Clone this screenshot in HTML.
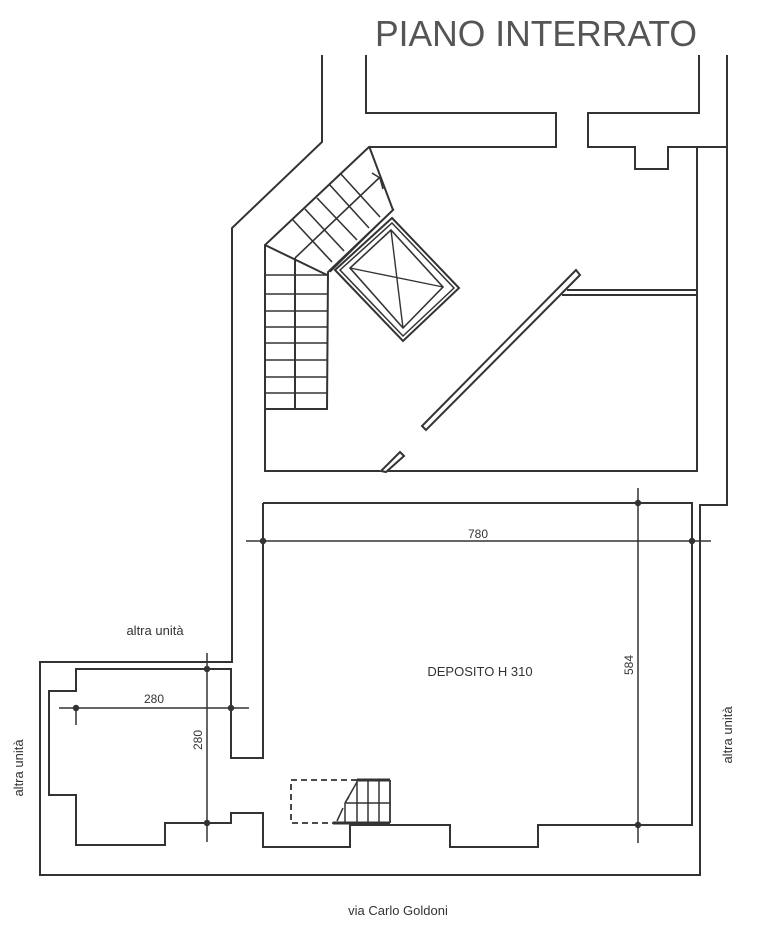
<!DOCTYPE html>
<html><head><meta charset="utf-8"><style>
html,body{margin:0;padding:0;background:#fff;}
svg{display:block;}
text{font-family:"Liberation Sans",sans-serif;fill:#333;}
</style></head><body>
<svg width="765" height="929" viewBox="0 0 765 929" xmlns="http://www.w3.org/2000/svg">
<text x="375" y="46" font-size="36" textLength="322" lengthAdjust="spacingAndGlyphs" style="fill:#555">PIANO INTERRATO</text>
<g fill="none" stroke="#333" stroke-width="2">
<!-- outer left -->
<polyline points="322,55 322,142 232,228 232,662 40,662 40,875 700,875 700,505 727,505 727,55"/>
<!-- inner top -->
<polyline points="366,55 366,113 556,113 556,147 369,147"/>
<polyline points="699,55 699,113 588,113 588,147 635,147 635,169 668,169 668,147 727,147"/>
<!-- upper room -->
<polyline points="369,147 265,245 265,471 380,471"/>
<polyline points="388,471 697,471 697,147"/>
<!-- stairs -->
<polyline points="369,146 393,210 328,272 327,409 265,409"/>
<line x1="295" y1="258" x2="295" y2="409"/>
<line x1="265" y1="245" x2="327" y2="275"/>
<g stroke-width="1.6">
<line x1="265" y1="275" x2="327" y2="275"/>
<line x1="265" y1="294" x2="327" y2="294"/>
<line x1="265" y1="311" x2="327" y2="311"/>
<line x1="265" y1="327" x2="327" y2="327"/>
<line x1="265" y1="343" x2="327" y2="343"/>
<line x1="265" y1="360" x2="327" y2="360"/>
<line x1="265" y1="377" x2="327" y2="377"/>
<line x1="265" y1="393" x2="327" y2="393"/>
<line x1="295" y1="258" x2="379" y2="178"/>
<line x1="372" y1="173" x2="380" y2="178"/>
<line x1="380" y1="178" x2="383" y2="189"/>
<line x1="340" y1="173" x2="380" y2="217"/>
<line x1="329" y1="184" x2="369" y2="228"/>
<line x1="317" y1="198" x2="357" y2="240"/>
<line x1="305" y1="209" x2="344" y2="251"/>
<line x1="293" y1="220" x2="332" y2="262"/>
</g>
<!-- elevator -->
<polygon points="392,218 459,288 403,341 335,270"/>
<polygon points="392,223 454,288 403,336 340,270" stroke-width="1.5"/>
<polygon points="391,230 443,287 403,328 350,268" stroke-width="1.6"/>
<line x1="350" y1="268" x2="443" y2="287" stroke-width="1.4"/>
<line x1="391" y1="230" x2="403" y2="328" stroke-width="1.4"/>
<line x1="394" y1="209" x2="330" y2="272" stroke-width="1.4"/>
<!-- diagonal wall -->
<polygon points="576,270 580,275 426,430 422,426"/>
<polyline points="567,290 697,290"/>
<polyline points="562,295 697,295"/>
<polygon points="400,452 404,456 386,472 381,471"/>
<!-- deposito -->
<polyline points="263,503 692,503 692,825 538,825 538,847 450,847 450,825 350,825 350,847 263,847 263,813 231,813 231,823 165,823 165,845 76,845 76,795 49,795 49,691 76,691 76,669 231,669 231,758 263,758 263,503"/>
</g>
<!-- dimension lines -->
<g stroke="#333" stroke-width="1.5" fill="#333">
<line x1="246" y1="541" x2="711" y2="541"/>
<circle cx="263" cy="541" r="2.5"/><circle cx="692" cy="541" r="2.5"/>
<line x1="638" y1="488" x2="638" y2="843"/>
<circle cx="638" cy="503" r="2.5"/><circle cx="638" cy="825" r="2.5"/>
<line x1="59" y1="708" x2="249" y2="708"/>
<circle cx="76" cy="708" r="2.5"/><circle cx="231" cy="708" r="2.5"/>
<line x1="76" y1="708" x2="76" y2="725"/>
<line x1="207" y1="653" x2="207" y2="842"/>
<circle cx="207" cy="669" r="2.5"/><circle cx="207" cy="823" r="2.5"/>
</g>
<!-- small stair -->
<g fill="none" stroke="#333">
<polyline points="357,780 291,780 291,823 333,823" stroke-dasharray="6,4" stroke-width="1.8"/>
<line x1="357" y1="780" x2="390" y2="780" stroke-width="3"/>
<line x1="333" y1="823" x2="390" y2="823" stroke-width="3"/>
<line x1="357" y1="780" x2="357" y2="823" stroke-width="1.5"/>
<line x1="368" y1="780" x2="368" y2="823" stroke-width="1.5"/>
<line x1="379" y1="780" x2="379" y2="823" stroke-width="1.5"/>
<line x1="390" y1="780" x2="390" y2="823" stroke-width="1.8"/>
<line x1="345" y1="803" x2="390" y2="803" stroke-width="1.5"/>
<line x1="345" y1="803" x2="345" y2="823" stroke-width="1.5"/>
<line x1="357" y1="782" x2="345" y2="803" stroke-width="1.5"/>
<line x1="343" y1="808" x2="337" y2="821" stroke-width="1.5"/>
<line x1="345" y1="803" x2="349" y2="797" stroke-width="1.3"/>
</g>
<!-- labels -->
<text x="478" y="538" font-size="12" text-anchor="middle">780</text>
<text x="154" y="703" font-size="12" text-anchor="middle">280</text>
<text transform="translate(633,665) rotate(-90)" font-size="12" text-anchor="middle">584</text>
<text transform="translate(202,740) rotate(-90)" font-size="12" text-anchor="middle">280</text>
<text x="480" y="676" font-size="13" text-anchor="middle">DEPOSITO H 310</text>
<text x="155" y="635" font-size="13" text-anchor="middle">altra unità</text>
<text transform="translate(23,768) rotate(-90)" font-size="13" text-anchor="middle">altra unità</text>
<text transform="translate(732,735) rotate(-90)" font-size="13" text-anchor="middle">altra unità</text>
<text x="398" y="915" font-size="13" text-anchor="middle">via Carlo Goldoni</text>
</svg>
</body></html>
